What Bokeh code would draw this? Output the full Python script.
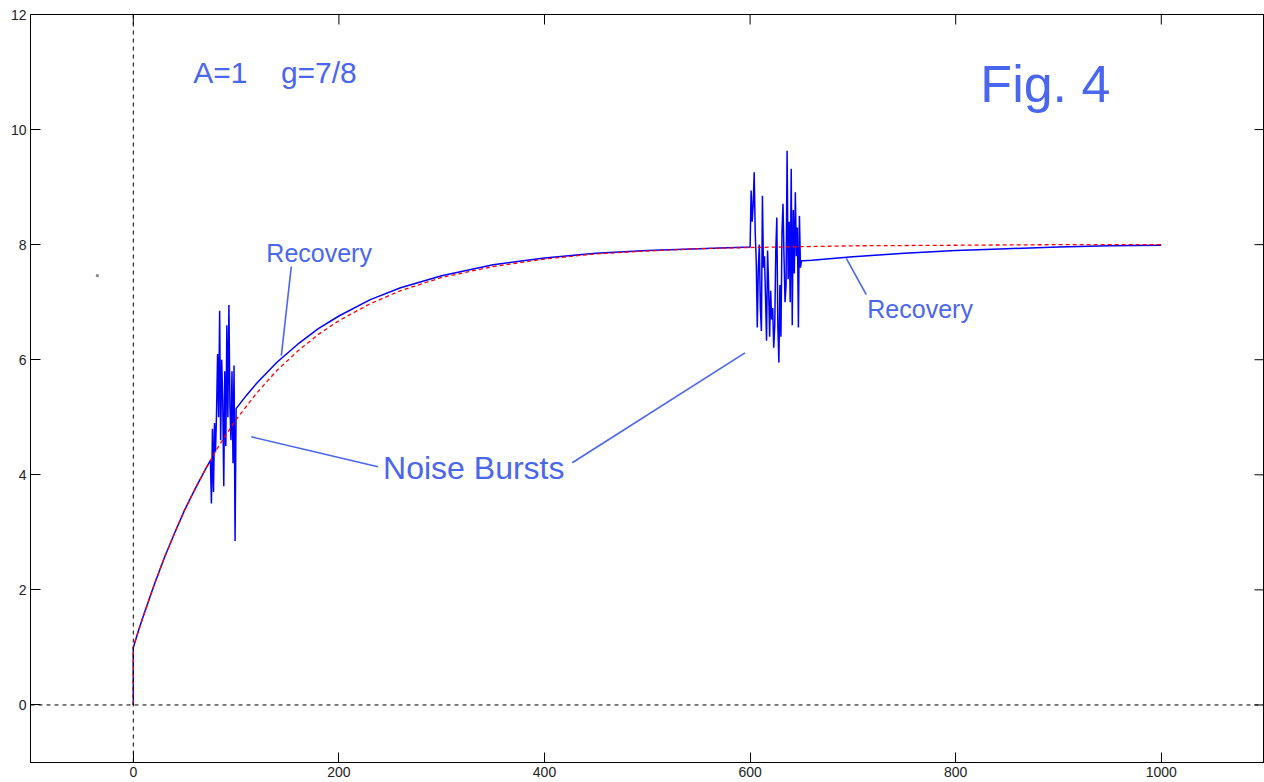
from bokeh.plotting import figure
from bokeh.models import FixedTicker, Span, Label, Range1d
from bokeh.embed import file_html
from bokeh.resources import INLINE

# ---- data ----
red_x = [0, 0, 5, 10, 20, 30, 40, 50, 60, 70, 80, 90, 100, 120, 140, 160, 180,
         200, 230, 260, 300, 350, 400, 450, 500, 550, 600, 700, 800, 900, 1000]
red_y = [0, 1.00, 1.29, 1.56, 2.07, 2.55, 2.98, 3.39, 3.75, 4.09, 4.41, 4.69, 4.96,
         5.42, 5.82, 6.15, 6.44, 6.68, 6.97, 7.20, 7.43, 7.62, 7.75, 7.84, 7.89,
         7.93, 7.95, 7.98, 7.99, 8.00, 8.00]

start_x = [0, 0, 5, 10, 20, 30, 40, 50, 60, 70]
start_y = [0, 1.00, 1.29, 1.56, 2.07, 2.55, 2.98, 3.39, 3.75, 4.09]

burst1_start = 75
burst1_y = [4.25, 3.5, 4.8, 3.7, 4.9, 4.4, 5.1, 6.1, 5.0, 6.85, 4.6, 6.0, 5.3,
            3.8, 5.8, 4.5, 6.6, 5.0, 6.95, 5.2, 4.6, 5.8, 4.2, 5.9, 2.85, 5.15]

recovery1_x = [110, 120, 140, 160, 180, 200, 230, 260, 300, 350, 400, 450, 500, 550, 600]
recovery1_y = [5.38, 5.59, 5.96, 6.27, 6.54, 6.76, 7.04, 7.25, 7.46, 7.65, 7.77,
               7.85, 7.90, 7.93, 7.96]

burst2_start = 601
burst2_y = [8.94, 8.4, 8.7, 9.26, 8.2, 7.7, 6.56, 7.6, 8.0, 6.9, 6.5, 8.85, 7.6,
            7.8, 7.1, 6.33, 7.9, 7.3, 6.4, 7.2, 6.7, 6.9, 6.21, 6.6, 7.9, 8.47,
            6.6, 5.95, 7.3, 6.4, 8.2, 8.71, 7.8, 7.0, 7.3, 9.63, 7.4, 8.4, 7.0,
            9.32, 6.6, 8.6, 7.5, 8.91, 7.8, 8.3, 6.56, 8.5, 7.6, 7.72, 7.72, 7.72]

recovery2_x = [660, 700, 750, 800, 850, 900, 950, 1000]
recovery2_y = [7.73, 7.79, 7.85, 7.90, 7.93, 7.96, 7.98, 7.99]

x_ticks = [0, 200, 400, 600, 800, 1000]
y_ticks = [0, 2, 4, 6, 8, 10, 12]

burst1_x = list(range(burst1_start, burst1_start + len(burst1_y)))
burst2_x = list(range(burst2_start, burst2_start + len(burst2_y)))
blue_x = start_x + burst1_x + recovery1_x + burst2_x + recovery2_x
blue_y = start_y + burst1_y + recovery1_y + burst2_y + recovery2_y

TXT = "#4a66ee"
FONT = "Liberation Sans"
X0, X1, Y0, Y1 = -100, 1100.4, -1, 12

p = figure(width=1264, height=782,
           x_range=Range1d(X0, X1), y_range=Range1d(Y0, Y1),
           output_backend="svg", toolbar_location=None,
           min_border_left=30, min_border_right=0,
           min_border_top=14, min_border_bottom=20)
p.background_fill_color = "white"
p.border_fill_color = "white"
p.outline_line_color = "black"
p.outline_line_width = 1
p.grid.visible = False

p.xaxis.ticker = FixedTicker(ticks=x_ticks)
p.yaxis.ticker = FixedTicker(ticks=y_ticks)
for ax in p.axis:
    ax.major_tick_in = 10
    ax.major_tick_out = 0
    ax.minor_tick_line_color = None
    ax.axis_line_color = "black"
    ax.major_tick_line_color = "black"
    ax.major_label_text_font = FONT
    ax.major_label_text_font_size = "14px"
    ax.major_label_text_color = "#222222"
    ax.major_label_standoff = 4

# inward ticks on the top and right edges (MATLAB box style)
tick_dy = 10 * (Y1 - Y0) / 748
tick_dx = 10 * (X1 - X0) / 1234
p.segment(x0=x_ticks, y0=[Y1] * len(x_ticks), x1=x_ticks,
          y1=[Y1 - tick_dy] * len(x_ticks), line_color="black", line_width=1)
p.segment(x0=[X1] * len(y_ticks), y0=y_ticks, x1=[X1 - tick_dx] * len(y_ticks),
          y1=y_ticks, line_color="black", line_width=1)

# dotted zero lines
p.add_layout(Span(location=0, dimension="height", line_color="black",
                  line_dash="4 4", line_width=1))
p.add_layout(Span(location=0, dimension="width", line_color="black",
                  line_dash="4 4", line_width=1))

p.line(blue_x, blue_y, line_color="#0000ff", line_width=1.5)
p.line(red_x, red_y, line_color="#ff0000", line_width=1.3, line_dash="4 3")

# stray dot
p.scatter([-35], [7.46], marker="square", size=2, color="#888888")

# annotation lines
p.line([153.7, 144], [7.62, 6.07], line_color=TXT, line_width=1.6)
p.line([693.6, 713], [7.76, 7.13], line_color=TXT, line_width=1.6)
p.line([238, 114.8], [4.14, 4.66], line_color=TXT, line_width=1.6)
p.line([427, 595], [4.21, 6.12], line_color=TXT, line_width=1.6)

def lab(x, y, t, size):
    p.add_layout(Label(x=x, y=y, text=t, text_font=FONT, text_font_size=size,
                       text_color=TXT, text_baseline="middle", text_align="left"))

NB = "\u00a0"
lab(58.4, 11.0, "A=1" + NB * 4 + "g=7/8", "30px")
lab(824, 10.8, "Fig. 4", "52px")
lab(129.4, 7.86, "Recovery", "25px")
lab(714, 6.89, "Recovery", "25px")
lab(243, 4.12, "Noise Bursts", "32px")

open("out.html", "w").write(file_html(p, INLINE))
